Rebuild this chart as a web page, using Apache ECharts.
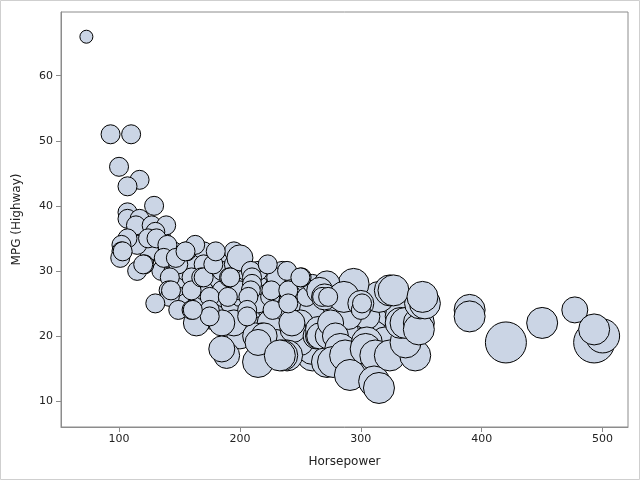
<!DOCTYPE html>
<html>
<head>
<meta charset="utf-8">
<script src="https://cdn.jsdelivr.net/npm/echarts@6/dist/echarts.min.js"></script>
<style>
html,body{margin:0;padding:0;background:#fff;}
#chart{width:640px;height:480px;}
</style>
</head>
<body>
<div id="chart"></div>
<script>
// Horsepower, MPG (Highway), Cylinders (bubble size) — rows kept aligned
const horsepower = [
  // interior fill 8-cyl
  300,320,330,310,340,260,280,300,
  300,310,320,330,340,295,310,320,285,260,
  // interior fill 6-cyl
  210,230,240,260,270,285,290,305,250,200,190,215,
  200,203,218,226,215,230,250,260,225,250,180,195,185,220,235,255,280,290,
  250,230,200,195,200,177,
  // interior fill 4-cyl
  150,160,170,175,190,195,205,215,225,235,245,255,165,180,190,200,215,225,235,255,260,175,
  130,135,145,150,155,160,165,170,180,185,195,150,155,165,170,160,140,125,115,135,145,185,200,215,230,
  // visible bubbles
  185,164,189,185,215,218,213,220,215,244,243,239,235,233,263,265,265,272,266,275,273,275,279,
  283,277,287,291,305,304,312,311,315,324,345,337,333,333,337,348,348,349,353,315,324,327,294,272,
  266,270,286,300,351,200,
  73,93,110,100,117,107,129,107,107,117,114,127,139,130,107,124,131,140,102,102,101,103,137,156,163,
  121,115,120,149,147,155,142,141,142,130,149,143,160,160,168,170,175,175,175,161,178,180,191,190,
  192,209,223,239,251,210,210,209,207,206,206,226,227,240,240,250,268,273,300,301,
  390,390,420,450,477,493,500,493
];
const mpgHighway = [
  20,22,20,24,21,17,19,17,
  22,22,24,25,23,20,20,19,21,18,
  22,22,24,22,23,24,26,23,21,22,24,24,
  24,23,21,24,27,26,25,24,22,22,25,25,28,28,28,27,24,23,
  19,19,20,22,28,23,
  30,33,33,30,31,33,30,29,30,30,28,28,27,27,28,26,25,26,24,26,28,28,
  33,30,30,28,30,31,29,31,29,30,31,26,25,26,27,29,32,33,34,35,33,27,27,30,29,
  22,22,17,18,16,20,20,20,19,21,22,17,17,17,20,20,21,16,20,20,20,22,20,
  18,16,17,14,19,18,17,13,12,17,17,19,23,22,22,22,21,25,25,26,27,27,28,28,
  27,26,26,25,26,32,
  66,51,51,46,44,43,40,39,38,38,37,37,37,36,35,35,35,34,34,33,32,33,32,33,34,
  31,30,31,31,32,33,29,27,26,25,24,27,27,24,29,29,26,24,23,24,31,33,29,26,
  29,30,31,30,29,29,28,27,26,24,23,27,24,27,25,29,26,26,24,25,
  24,23,19,22,24,19,20,21
];
const cylinders = [
  8,8,8,8,8,8,8,8,
  8,8,8,8,8,8,8,8,8,8,
  6,6,6,6,6,6,6,6,6,6,6,6,
  6,6,6,6,6,6,6,6,6,6,6,6,6,6,6,6,6,6,
  6,6,6,6,6,6,
  4,4,4,4,4,4,4,4,4,4,4,4,4,4,4,4,4,4,4,4,4,4,
  4,4,4,4,4,4,4,4,4,4,4,4,4,4,4,4,4,4,4,4,4,4,4,4,4,
  6,6,6,6,8,6,6,6,6,6,6,8,8,8,6,6,6,8,6,6,6,6,6,
  8,8,8,8,8,8,8,8,8,8,8,8,8,8,8,8,8,8,8,8,8,8,8,6,
  6,6,8,6,8,6,
  3,4,4,4,4,4,4,4,4,4,4,4,4,4,4,4,4,4,4,4,4,4,4,4,4,
  4,4,4,4,4,4,4,4,4,4,4,4,4,4,4,4,4,4,4,4,4,4,4,4,
  4,4,4,4,4,4,4,4,4,4,4,4,4,4,4,4,4,4,4,4,
  8,8,12,8,6,12,10,8
];
const xTicks = [100, 200, 300, 400, 500];
const yTicks = [10, 20, 30, 40, 50, 60];

const sizeByCyl = {3: 13, 4: 19, 5: 23, 6: 26, 8: 31, 10: 34, 12: 41};
const n = Math.min(horsepower.length, mpgHighway.length, cylinders.length);
const data = [];
for (let i = 0; i < n; i++) data.push([horsepower[i], mpgHighway[i], cylinders[i]]);

const chart = echarts.init(document.getElementById('chart'), null, {renderer: 'canvas'});
const axisColor = '#8c8c8c';
const font = 'DejaVu Sans';
chart.setOption({
  animation: false,
  backgroundColor: '#fff',
  graphic: [{
    type: 'rect', z: 100,
    shape: {x: 0.5, y: 0.5, width: 639, height: 479},
    style: {fill: 'none', stroke: '#cfcfcf', lineWidth: 1}
  }],
  grid: {left: 61, top: 12, right: 12, bottom: 53, show: true, borderColor: axisColor, borderWidth: 1, backgroundColor: 'transparent'},
  xAxis: {
    type: 'value', min: 52, max: 521,
    name: 'Horsepower', nameLocation: 'middle', nameGap: 29,
    nameTextStyle: {fontFamily: font, fontSize: 12, color: '#222'},
    axisLine: {show: true, lineStyle: {color: axisColor}},
    axisTick: {show: true, length: 5, lineStyle: {color: axisColor}, customValues: xTicks},
    axisLabel: {fontFamily: font, fontSize: 11, color: '#222', margin: 7, customValues: xTicks},
    splitLine: {show: false}
  },
  yAxis: {
    type: 'value', min: 6, max: 69.8,
    name: 'MPG (Highway)', nameLocation: 'middle', nameGap: 38,
    nameTextStyle: {fontFamily: font, fontSize: 12, color: '#222'},
    axisLine: {show: true, lineStyle: {color: axisColor}},
    axisTick: {show: true, length: 5, lineStyle: {color: axisColor}, customValues: yTicks},
    axisLabel: {fontFamily: font, fontSize: 11, color: '#222', margin: 8, customValues: yTicks},
    splitLine: {show: false}
  },
  series: [{
    type: 'scatter',
    data: data,
    symbol: 'circle',
    symbolSize: v => sizeByCyl[v[2]] || 19,
    itemStyle: {color: '#cbd5e5', borderColor: '#000', borderWidth: 1, opacity: 1},
    emphasis: {disabled: true}
  }]
});
</script>
</body>
</html>
